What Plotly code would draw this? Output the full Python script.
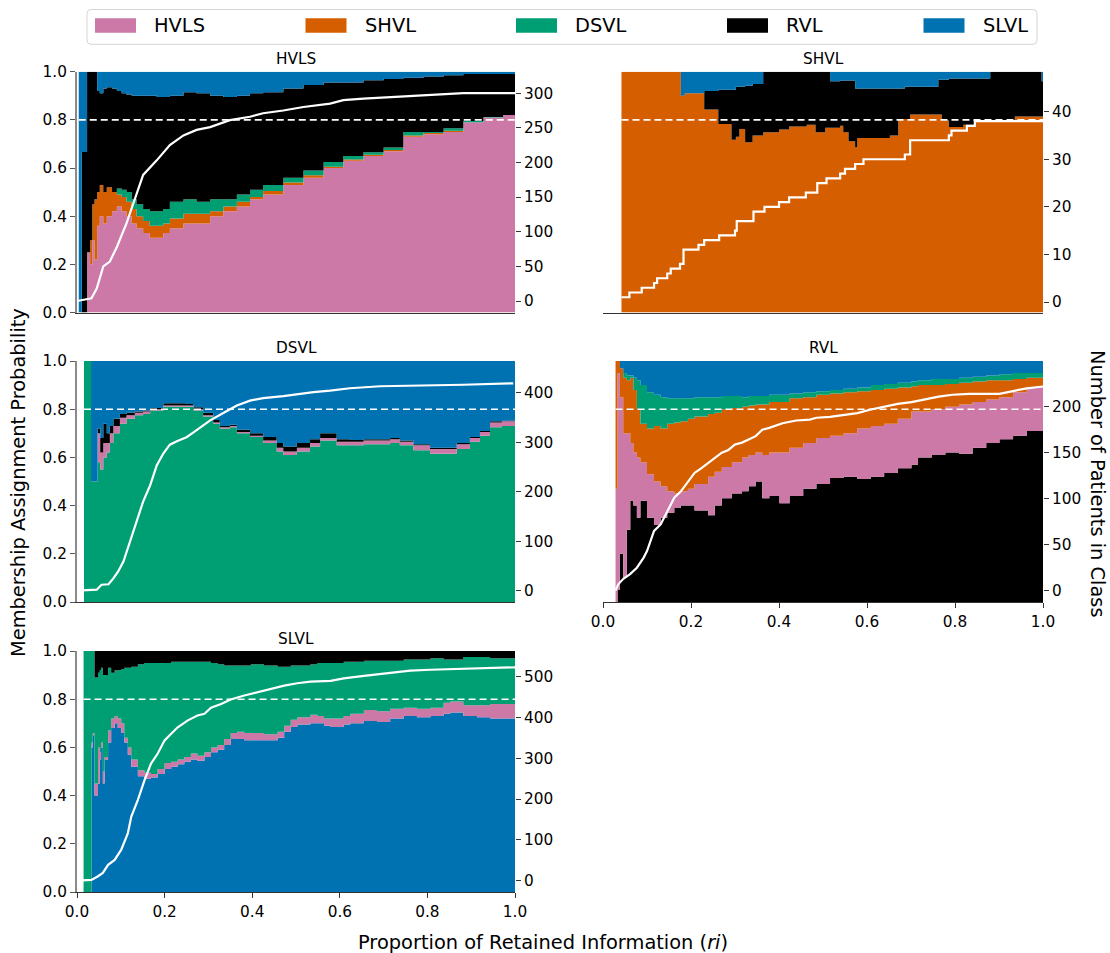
import plotly.graph_objects as go

W, H = 1110, 953
FONT = "DejaVu Sans"

CLASS_NAMES = ["HVLS", "SHVL", "DSVL", "RVL", "SLVL"]
CLASS_COLORS = ["#CC79A7", "#D55E00", "#009E73", "#000000", "#0072B2"]

# ---------------- HVLS panel (cumulative tops of stacked layers) ----------------
hvls_x = [0.004, 0.011, 0.023, 0.030, 0.035, 0.040, 0.046, 0.052, 0.060, 0.068, 0.080, 0.091, 0.102, 0.113,
          0.125, 0.136, 0.151, 0.166, 0.182, 0.197, 0.212, 0.243, 0.273, 0.304, 0.334, 0.365, 0.395, 0.425,
          0.471, 0.517, 0.563, 0.608, 0.654, 0.700, 0.745, 0.791, 0.837, 0.882, 0.928, 0.973, 1.000]
hvls_cum_hvls = [0, 0, 0.25, 0.20, 0.30, 0.22, 0.36, 0.40, 0.37, 0.40, 0.42, 0.44, 0.42, 0.40,
                 0.37, 0.35, 0.33, 0.31, 0.31, 0.33, 0.35, 0.37, 0.37, 0.40, 0.42, 0.44, 0.47, 0.49,
                 0.53, 0.56, 0.60, 0.63, 0.65, 0.67, 0.73, 0.74, 0.75, 0.79, 0.81, 0.82, 0.81]
hvls_cum_shvl = [0, 0, 0.25, 0.30, 0.45, 0.47, 0.50, 0.53, 0.50, 0.52, 0.50, 0.49, 0.48, 0.46,
                 0.43, 0.40, 0.38, 0.36, 0.36, 0.37, 0.39, 0.41, 0.41, 0.42, 0.44, 0.46, 0.48, 0.505,
                 0.54, 0.57, 0.605, 0.635, 0.655, 0.675, 0.735, 0.745, 0.755, 0.79, 0.81, 0.82, 0.81]
hvls_cum_dsvl = [0, 0, 0.25, 0.30, 0.45, 0.47, 0.50, 0.53, 0.50, 0.52, 0.50, 0.515, 0.51, 0.50,
                 0.47, 0.45, 0.43, 0.42, 0.42, 0.43, 0.46, 0.47, 0.46, 0.47, 0.47, 0.49, 0.51, 0.53,
                 0.56, 0.59, 0.625, 0.65, 0.665, 0.685, 0.75, 0.75, 0.765, 0.795, 0.812, 0.82, 0.81]
hvls_cum_rvl = [0, 0.667, 1.0, 1.0, 1.0, 1.0, 0.92, 0.91, 0.93, 0.935, 0.93, 0.92, 0.91, 0.905,
                0.90, 0.90, 0.90, 0.90, 0.895, 0.895, 0.90, 0.915, 0.91, 0.90, 0.895, 0.90, 0.91, 0.915,
                0.93, 0.945, 0.955, 0.955, 0.965, 0.97, 0.975, 0.98, 0.985, 0.99, 0.99, 0.99, 0.99]
hvls_count_x = [0, 0.033, 0.045, 0.060, 0.075, 0.091, 0.113, 0.136, 0.151, 0.182, 0.212, 0.243, 0.273,
                0.304, 0.349, 0.395, 0.425, 0.471, 0.517, 0.578, 0.608, 0.654, 0.730, 0.806, 0.882, 1.0]
hvls_count = [0, 4, 18, 50, 57, 78, 112, 155, 182, 203, 225, 239, 247,
              251, 261, 266, 271, 275, 280, 285, 290, 292, 295, 297, 300, 300]

# ---------------- SHVL panel ----------------
shvl_x = [0.042, 0.177, 0.186, 0.230, 0.262, 0.292, 0.302, 0.310, 0.323, 0.340, 0.364, 0.400, 0.423, 0.463,
          0.483, 0.505, 0.516, 0.539, 0.546, 0.558, 0.573, 0.578, 0.652, 0.671, 0.686, 0.698, 0.762, 0.770,
          0.786, 0.819, 0.845, 0.880, 0.936, 0.997, 1.0]
shvl_cum_shvl = [1.0, 0.90, 0.91, 0.843, 0.783, 0.717, 0.73, 0.762, 0.707, 0.735, 0.749, 0.76, 0.772, 0.78,
                 0.749, 0.767, 0.767, 0.776, 0.749, 0.711, 0.686, 0.725, 0.735, 0.804, 0.804, 0.822, 0.822, 0.797,
                 0.77, 0.78, 0.794, 0.794, 0.814, 0.814, 0.814]
shvl_cum_rvl = [1.0, 0.90, 0.91, 0.92, 0.925, 0.925, 0.938, 0.938, 0.942, 0.949, 1.0, 1.0, 1.0, 1.0,
                1.0, 1.0, 0.96, 0.963, 0.963, 0.963, 0.93, 0.93, 0.93, 0.93, 0.938, 0.938, 0.967, 0.967,
                0.972, 0.972, 0.972, 1.0, 1.0, 0.96, 0.96]
shvl_count_x = [0.042, 0.060, 0.088, 0.116, 0.123, 0.146, 0.154, 0.175, 0.183, 0.217, 0.230, 0.264, 0.300,
                0.304, 0.342, 0.367, 0.400, 0.423, 0.461, 0.487, 0.508, 0.539, 0.550, 0.573, 0.592, 0.686,
                0.698, 0.786, 0.792, 0.827, 0.845, 1.0]
shvl_count = [1, 2, 3, 4, 5, 6, 7, 8, 11, 12, 13, 14, 15, 17, 19, 20, 21, 22, 23, 25, 26, 27, 28, 29, 30, 31,
              34, 35, 36, 37, 38, 38]

# ---------------- DSVL panel ----------------
dsvl_x = [0.016, 0.032, 0.047, 0.053, 0.060, 0.068, 0.075, 0.083, 0.098, 0.113, 0.132, 0.151, 0.167, 0.197,
          0.225, 0.250, 0.266, 0.288, 0.311, 0.326, 0.349, 0.365, 0.395, 0.425, 0.456, 0.471, 0.502, 0.532,
          0.555, 0.593, 0.623, 0.654, 0.684, 0.715, 0.737, 0.768, 0.806, 0.844, 0.867, 0.897, 0.920, 0.943,
          0.970, 1.000]
dsvl_cum_dsvl = [1.0, 0.50, 0.58, 0.55, 0.60, 0.62, 0.66, 0.70, 0.74, 0.76, 0.775, 0.78, 0.795, 0.81,
                 0.81, 0.81, 0.795, 0.77, 0.74, 0.72, 0.725, 0.70, 0.685, 0.66, 0.625, 0.61, 0.625, 0.645,
                 0.67, 0.65, 0.65, 0.655, 0.655, 0.66, 0.65, 0.63, 0.615, 0.615, 0.635, 0.665, 0.69, 0.725,
                 0.73, 0.73]
dsvl_cum_hvls = [1.0, 0.50, 0.70, 0.62, 0.66, 0.66, 0.70, 0.73, 0.765, 0.775, 0.785, 0.79, 0.80, 0.815,
                 0.815, 0.815, 0.80, 0.775, 0.745, 0.725, 0.73, 0.705, 0.69, 0.67, 0.64, 0.625, 0.64, 0.66,
                 0.68, 0.665, 0.665, 0.67, 0.67, 0.675, 0.665, 0.65, 0.635, 0.635, 0.655, 0.68, 0.705, 0.745,
                 0.75, 0.75]
dsvl_cum_rvl = [1.0, 0.50, 0.72, 0.68, 0.74, 0.70, 0.73, 0.76, 0.78, 0.785, 0.79, 0.795, 0.805, 0.825,
                0.825, 0.822, 0.808, 0.785, 0.755, 0.73, 0.735, 0.715, 0.70, 0.685, 0.66, 0.645, 0.66, 0.675,
                0.70, 0.675, 0.672, 0.675, 0.675, 0.68, 0.67, 0.655, 0.64, 0.64, 0.66, 0.685, 0.71, 0.75,
                0.752, 0.752]
dsvl_count_x = [0, 0.045, 0.056, 0.072, 0.083, 0.094, 0.106, 0.121, 0.136, 0.151, 0.167, 0.182, 0.197, 0.212,
                0.228, 0.250, 0.266, 0.281, 0.304, 0.334, 0.365, 0.395, 0.425, 0.471, 0.502, 0.540, 0.578,
                0.623, 0.692, 0.768, 0.882, 0.996]
dsvl_count = [0, 2, 12, 13, 25, 39, 59, 99, 139, 180, 213, 253, 277, 295, 302, 310, 320, 330, 344, 359, 374,
              384, 389, 393, 397, 401, 404, 409, 413, 414, 416, 419]

# ---------------- RVL panel ----------------
rvl_x = [0.0285, 0.033, 0.0385, 0.046, 0.054, 0.062, 0.069, 0.077, 0.085, 0.100, 0.116, 0.131, 0.146, 0.162,
         0.177, 0.193, 0.208, 0.239, 0.254, 0.270, 0.293, 0.316, 0.331, 0.347, 0.362, 0.378, 0.401, 0.424,
         0.455, 0.485, 0.516, 0.547, 0.578, 0.609, 0.639, 0.670, 0.701, 0.716, 0.747, 0.778, 0.809, 0.840,
         0.871, 0.901, 0.932, 0.963, 1.0]
rvl_cum_rvl = [0.0, 0.05, 0.2, 0.1, 0.3, 0.42, 0.40, 0.35, 0.42, 0.35, 0.32, 0.35, 0.37, 0.39, 0.40, 0.40,
               0.38, 0.36, 0.40, 0.43, 0.45, 0.46, 0.48, 0.50, 0.43, 0.44, 0.41, 0.44, 0.47, 0.49, 0.515, 0.52,
               0.51, 0.52, 0.535, 0.555, 0.57, 0.60, 0.61, 0.62, 0.615, 0.64, 0.66, 0.675, 0.69, 0.71, 0.72]
rvl_cum_hvls = [0.47, 0.95, 0.85, 0.70, 0.70, 0.66, 0.62, 0.60, 0.58, 0.53, 0.50, 0.48, 0.46, 0.45, 0.46, 0.47,
                0.49, 0.52, 0.54, 0.56, 0.58, 0.60, 0.61, 0.62, 0.61, 0.62, 0.62, 0.64, 0.66, 0.68, 0.69, 0.70,
                0.72, 0.73, 0.74, 0.76, 0.79, 0.79, 0.80, 0.81, 0.82, 0.83, 0.84, 0.85, 0.87, 0.89, 0.90]
rvl_cum_shvl = [1.0, 1.0, 0.97, 0.93, 0.92, 0.93, 0.88, 0.80, 0.74, 0.72, 0.73, 0.72, 0.74, 0.745, 0.75, 0.76,
                0.77, 0.78, 0.785, 0.80, 0.805, 0.81, 0.815, 0.82, 0.82, 0.83, 0.83, 0.845, 0.85, 0.86, 0.865,
                0.87, 0.875, 0.88, 0.885, 0.89, 0.895, 0.90, 0.90, 0.905, 0.91, 0.915, 0.92, 0.92, 0.925, 0.93,
                0.935]
rvl_cum_dsvl = [1.0, 1.0, 0.97, 0.95, 0.94, 0.94, 0.93, 0.92, 0.90, 0.87, 0.86, 0.85, 0.845, 0.845, 0.845,
                0.845, 0.85, 0.85, 0.85, 0.855, 0.855, 0.85, 0.855, 0.855, 0.855, 0.86, 0.86, 0.865, 0.87,
                0.875, 0.88, 0.885, 0.89, 0.90, 0.905, 0.91, 0.915, 0.92, 0.925, 0.925, 0.93, 0.935, 0.94,
                0.945, 0.95, 0.95, 0.96]
rvl_count_x = [0.0285, 0.0347, 0.0462, 0.0616, 0.077, 0.0924, 0.100, 0.108, 0.116, 0.131, 0.146, 0.162, 0.177,
               0.193, 0.208, 0.223, 0.239, 0.254, 0.270, 0.285, 0.300, 0.316, 0.331, 0.347, 0.362, 0.378, 0.408,
               0.439, 0.470, 0.485, 0.516, 0.547, 0.578, 0.609, 0.639, 0.670, 0.701, 0.732, 0.763, 0.794,
               0.832, 0.871, 0.901, 0.932, 0.963, 1.0]
rvl_count = [0, 7, 13, 18, 25, 36, 43, 54, 65, 72, 86, 101, 108, 119, 128, 133, 139, 144, 150, 153, 159, 161,
             164, 168, 175, 177, 182, 185, 186, 188, 189, 191, 193, 197, 200, 203, 205, 208, 211, 213, 214,
             214, 214, 217, 220, 222]

# ---------------- SLVL panel ----------------
slvl_x = [0.015, 0.033, 0.036, 0.040, 0.048, 0.052, 0.055, 0.059, 0.063, 0.071, 0.078, 0.086, 0.093, 0.101,
          0.108, 0.116, 0.124, 0.139, 0.154, 0.169, 0.184, 0.200, 0.215, 0.230, 0.245, 0.260, 0.275, 0.291,
          0.306, 0.321, 0.336, 0.351, 0.366, 0.382, 0.397, 0.427, 0.458, 0.473, 0.488, 0.503, 0.533, 0.549,
          0.564, 0.579, 0.609, 0.624, 0.655, 0.685, 0.715, 0.746, 0.776, 0.807, 0.837, 0.852, 0.882, 0.913,
          0.943, 1.0]
slvl_cum_slvl = [0, 0.60, 0.65, 0.40, 0.45, 0.55, 0.60, 0.45, 0.55, 0.62, 0.68, 0.70, 0.68, 0.66, 0.62, 0.57,
                 0.52, 0.48, 0.47, 0.475, 0.49, 0.51, 0.52, 0.53, 0.54, 0.55, 0.545, 0.56, 0.58, 0.59, 0.61,
                 0.635, 0.635, 0.63, 0.63, 0.63, 0.64, 0.665, 0.685, 0.695, 0.70, 0.70, 0.69, 0.685, 0.695,
                 0.70, 0.71, 0.705, 0.72, 0.73, 0.725, 0.73, 0.74, 0.745, 0.73, 0.725, 0.72, 0.72]
slvl_cum_hvls = [0, 0.62, 0.66, 0.45, 0.60, 0.58, 0.62, 0.50, 0.56, 0.67, 0.72, 0.73, 0.72, 0.70, 0.64, 0.60,
                 0.55, 0.505, 0.495, 0.49, 0.51, 0.535, 0.54, 0.55, 0.56, 0.575, 0.565, 0.58, 0.60, 0.61,
                 0.635, 0.66, 0.665, 0.66, 0.66, 0.655, 0.665, 0.69, 0.715, 0.725, 0.735, 0.73, 0.72, 0.72,
                 0.73, 0.74, 0.755, 0.75, 0.76, 0.765, 0.76, 0.765, 0.785, 0.79, 0.775, 0.775, 0.78, 0.78]
slvl_cum_dsvl = [1.0, 1.0, 1.0, 0.89, 0.91, 0.92, 0.93, 0.90, 0.90, 0.93, 0.91, 0.92, 0.92, 0.925, 0.93, 0.93,
                 0.935, 0.945, 0.95, 0.95, 0.95, 0.95, 0.955, 0.955, 0.955, 0.955, 0.955, 0.955, 0.95, 0.945,
                 0.94, 0.94, 0.94, 0.94, 0.945, 0.94, 0.935, 0.935, 0.94, 0.94, 0.945, 0.95, 0.95, 0.95,
                 0.955, 0.955, 0.96, 0.96, 0.96, 0.965, 0.965, 0.97, 0.965, 0.965, 0.975, 0.975, 0.97, 0.985]
slvl_count_x = [0, 0.033, 0.048, 0.059, 0.071, 0.086, 0.101, 0.116, 0.124, 0.139, 0.154, 0.169, 0.184, 0.200,
                0.215, 0.230, 0.253, 0.275, 0.291, 0.306, 0.329, 0.351, 0.382, 0.412, 0.442, 0.473, 0.503,
                0.533, 0.579, 0.609, 0.655, 0.715, 0.761, 0.807, 0.882, 1.0]
slvl_count = [0, 2, 11, 19, 39, 51, 76, 116, 157, 198, 246, 287, 311, 344, 360, 376, 393, 405, 409, 424, 433,
              444, 454, 462, 470, 478, 484, 488, 490, 496, 502, 509, 515, 517, 520, 523]

THRESHOLD = 0.8

# ---------------- layout geometry (pixels) ----------------
def px_x(p):
    return p / W


def px_y(p):
    return 1 - p / H


COLS = [(77, 515), (603, 1043)]
ROWS = [(71.7, 312.5), (361, 602), (651, 892)]

panels = [
    dict(name="HVLS", col=0, row=0, x=hvls_x,
         layers=[(0, hvls_cum_hvls), (1, hvls_cum_shvl), (2, hvls_cum_dsvl), (3, hvls_cum_rvl), (4, None)],
         cx=hvls_count_x, cy=hvls_count, crange=[-16.6, 331], cticks=[0, 50, 100, 150, 200, 250, 300],
         shape="linear", xlabels=False, left=True),
    dict(name="SHVL", col=1, row=0, x=shvl_x,
         layers=[(1, shvl_cum_shvl), (3, shvl_cum_rvl), (4, None)],
         cx=shvl_count_x, cy=shvl_count, crange=[-2.2, 48.4], cticks=[0, 10, 20, 30, 40],
         shape="hv", xlabels=False, left=False),
    dict(name="DSVL", col=0, row=1, x=dsvl_x,
         layers=[(2, dsvl_cum_dsvl), (0, dsvl_cum_hvls), (3, dsvl_cum_rvl), (4, None)],
         cx=dsvl_count_x, cy=dsvl_count, crange=[-22.8, 464], cticks=[0, 100, 200, 300, 400],
         shape="linear", xlabels=False, left=True),
    dict(name="RVL", col=1, row=1, x=rvl_x,
         layers=[(3, rvl_cum_rvl), (0, rvl_cum_hvls), (1, rvl_cum_shvl), (2, rvl_cum_dsvl), (4, None)],
         cx=rvl_count_x, cy=rvl_count, crange=[-12.3, 249.7], cticks=[0, 50, 100, 150, 200],
         shape="linear", xlabels=True, left=False),
    dict(name="SLVL", col=0, row=2, x=slvl_x,
         layers=[(4, slvl_cum_slvl), (0, slvl_cum_hvls), (2, slvl_cum_dsvl), (3, None)],
         cx=slvl_count_x, cy=slvl_count, crange=[-27.7, 563], cticks=[0, 100, 200, 300, 400, 500],
         shape="linear", xlabels=True, left=True),
]

fig = go.Figure()
layout = dict(
    width=W, height=H, autosize=False,
    margin=dict(l=0, r=0, t=0, b=0, pad=0, autoexpand=False),
    paper_bgcolor="white", plot_bgcolor="white",
    showlegend=False,
    font=dict(family=FONT, size=15, color="black"),
)
annotations = []
shapes = []

TICKFONT = dict(family=FONT, size=15.3, color="black")

for i, p in enumerate(panels):
    k = i + 1
    xa = "x" if k == 1 else f"x{k}"
    ya = "y" if k == 1 else f"y{k}"
    yr = f"y{k + 5}"
    xs = p["x"]
    n = len(xs)
    # baseline
    fig.add_trace(go.Scatter(x=xs, y=[0] * n, mode="lines", line=dict(width=0, shape="hv"),
                             xaxis=xa, yaxis=ya, hoverinfo="skip", showlegend=False))
    for ci, cum in p["layers"]:
        yv = cum if cum is not None else [1.0] * n
        fig.add_trace(go.Scatter(x=xs, y=yv, mode="lines", line=dict(width=0, shape="hv"),
                                 fill="tonexty", fillcolor=CLASS_COLORS[ci], name=CLASS_NAMES[ci],
                                 xaxis=xa, yaxis=ya, hoverinfo="skip", showlegend=False))
    # threshold dashed line
    fig.add_trace(go.Scatter(x=[xs[0], xs[-1]], y=[THRESHOLD, THRESHOLD], mode="lines",
                             line=dict(color="white", width=1.6, dash="7px,4px"),
                             xaxis=xa, yaxis=ya, hoverinfo="skip", showlegend=False))
    # patient counts
    fig.add_trace(go.Scatter(x=p["cx"], y=p["cy"], mode="lines",
                             line=dict(color="white", width=2.2, shape=p["shape"]),
                             xaxis=xa, yaxis=yr, hoverinfo="skip", showlegend=False))

    c0, c1 = COLS[p["col"]]
    r0, r1 = ROWS[p["row"]]
    xdom = [px_x(c0), px_x(c1)]
    ydom = [px_y(r1), px_y(r0)]
    xkey = "xaxis" if k == 1 else f"xaxis{k}"
    ykey = "yaxis" if k == 1 else f"yaxis{k}"
    layout[xkey] = dict(
        domain=xdom, anchor=ya, range=[0, 1], showgrid=False, zeroline=False, automargin=False,
        showline=True, linecolor="#333333", linewidth=1.3,
        ticks="outside" if p["xlabels"] else "", ticklen=5, tickwidth=1.1, tickcolor="#333333",
        showticklabels=p["xlabels"], tickvals=[0, 0.2, 0.4, 0.6, 0.8, 1.0], tickformat=".1f",
        tickfont=TICKFONT, fixedrange=True,
    )
    if p["left"]:
        layout[ykey] = dict(
            domain=ydom, anchor=xa, range=[0, 1], showgrid=False, zeroline=False, automargin=False,
            showline=True, linecolor="#8a8a8a", linewidth=2,
            ticks="outside", ticklen=5, tickwidth=1.1, tickcolor="#555555",
            tickvals=[0, 0.2, 0.4, 0.6, 0.8, 1.0], tickformat=".1f", tickfont=TICKFONT, fixedrange=True,
        )
    else:
        layout[ykey] = dict(domain=ydom, anchor=xa, range=[0, 1], visible=False, showgrid=False,
                            zeroline=False, automargin=False, fixedrange=True)
    layout[f"yaxis{k + 5}"] = dict(
        overlaying=ya, side="right", anchor=xa, range=p["crange"], showgrid=False, zeroline=False,
        automargin=False, showline=False, ticks="outside", ticklen=5, tickwidth=1.1, tickcolor="#333333",
        tickvals=p["cticks"], tickfont=TICKFONT, fixedrange=True,
    )
    # panel title
    annotations.append(dict(text=p["name"], x=px_x((c0 + c1) / 2), y=px_y(r0 - 12.5), xref="paper",
                            yref="paper", xanchor="center", yanchor="middle", showarrow=False,
                            font=dict(family=FONT, size=15.3, color="black")))

# axis titles
LABFONT = dict(family=FONT, size=19.4, color="black")
annotations.append(dict(text="Membership Assignment Probability", x=px_x(18), y=px_y(483), xref="paper",
                        yref="paper", xanchor="center", yanchor="middle", textangle=-90, showarrow=False,
                        font=LABFONT))
annotations.append(dict(text="Number of Patients in Class", x=px_x(1098), y=px_y(484), xref="paper",
                        yref="paper", xanchor="center", yanchor="middle", textangle=90, showarrow=False,
                        font=LABFONT))
annotations.append(dict(text="Proportion of Retained Information (<i>ri</i>)", x=px_x(543), y=px_y(942),
                        xref="paper", yref="paper", xanchor="center", yanchor="middle", showarrow=False,
                        font=LABFONT))

# legend (drawn manually to mimic the boxed, wide-patch legend)
lx0, lx1, ly0, ly1, rr = 87, 1037, 9.5, 44.3, 4
path = (f"M{px_x(lx0 + rr)},{px_y(ly0)} L{px_x(lx1 - rr)},{px_y(ly0)} "
        f"Q{px_x(lx1)},{px_y(ly0)} {px_x(lx1)},{px_y(ly0 + rr)} "
        f"L{px_x(lx1)},{px_y(ly1 - rr)} Q{px_x(lx1)},{px_y(ly1)} {px_x(lx1 - rr)},{px_y(ly1)} "
        f"L{px_x(lx0 + rr)},{px_y(ly1)} Q{px_x(lx0)},{px_y(ly1)} {px_x(lx0)},{px_y(ly1 - rr)} "
        f"L{px_x(lx0)},{px_y(ly0 + rr)} Q{px_x(lx0)},{px_y(ly0)} {px_x(lx0 + rr)},{px_y(ly0)} Z")
shapes.append(dict(type="path", path=path, xref="paper", yref="paper",
                   line=dict(color="#d5d5d5", width=1), fillcolor="white", layer="above"))
patch_starts = [95, 305.5, 516, 727, 923.5]
for ci, xs0 in enumerate(patch_starts):
    shapes.append(dict(type="rect", xref="paper", yref="paper", x0=px_x(xs0), x1=px_x(xs0 + 41),
                       y0=px_y(32.7), y1=px_y(18.3), fillcolor=CLASS_COLORS[ci], line=dict(width=0),
                       layer="above"))
    annotations.append(dict(text=CLASS_NAMES[ci], x=px_x(xs0 + 57), y=px_y(26), xref="paper", yref="paper",
                            xanchor="left", yanchor="middle", showarrow=False, font=LABFONT))

layout["annotations"] = annotations
layout["shapes"] = shapes
fig.update_layout(**layout)
fig.write_html(
    "out.html",
    config={"displayModeBar": False, "responsive": False},
    post_script="document.body.style.margin='0';document.body.style.padding='0';"
                "document.body.style.overflow='hidden';",
)
